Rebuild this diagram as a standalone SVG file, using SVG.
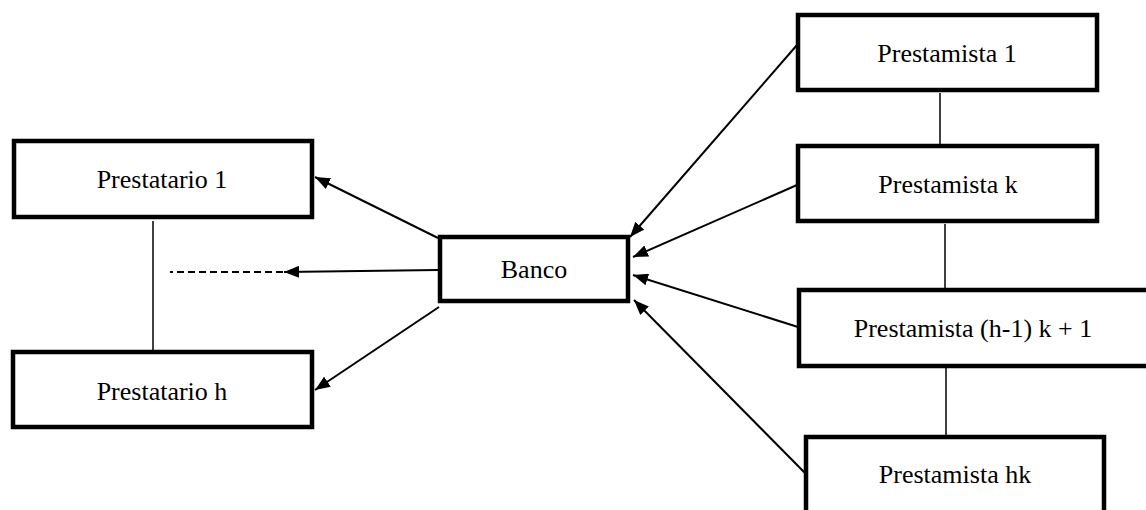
<svg xmlns="http://www.w3.org/2000/svg" width="1146" height="510" viewBox="0 0 1146 510">
  <style>
    .box { fill: #ffffff; stroke: #000000; stroke-width: 4.5; }
    .lbl { font-family: "Liberation Serif", "Times New Roman", serif; font-size: 26px; fill: #000000; text-anchor: middle; }
    .conn { stroke: #000000; stroke-width: 2; fill: none; }
    .thin { stroke: #000000; stroke-width: 1.5; fill: none; }
    .dash { stroke: #000000; stroke-width: 2; fill: none; stroke-dasharray: 7 4; }
  </style>
  <defs>
    <marker id="arrow" markerUnits="userSpaceOnUse" markerWidth="16" markerHeight="12" refX="15" refY="6" orient="auto">
      <path d="M0,0 L15,6 L0,12 z" fill="#000000"/>
    </marker>
  </defs>
  <rect width="1146" height="510" fill="#ffffff"/>

  <g id="connectors">
    <line class="thin" x1="153" y1="221" x2="153" y2="350"/>
    <line class="thin" x1="940" y1="93" x2="940" y2="144"/>
    <line class="thin" x1="945" y1="224" x2="945" y2="288"/>
    <line class="thin" x1="946" y1="368" x2="946" y2="435"/>
    <line class="conn" x1="438" y1="238" x2="315" y2="177" marker-end="url(#arrow)"/>
    <line class="conn" x1="438" y1="270" x2="284" y2="272" marker-end="url(#arrow)"/>
    <line class="dash" x1="283" y1="272" x2="170" y2="272"/>
    <line class="conn" x1="439" y1="307" x2="315" y2="390" marker-end="url(#arrow)"/>
    <line class="conn" x1="797" y1="45" x2="630" y2="237" marker-end="url(#arrow)"/>
    <line class="conn" x1="797" y1="185" x2="633" y2="257" marker-end="url(#arrow)"/>
    <line class="conn" x1="798" y1="327" x2="633" y2="275" marker-end="url(#arrow)"/>
    <line class="conn" x1="805" y1="473" x2="634" y2="300" marker-end="url(#arrow)"/>
  </g>

  <g id="prestatario1">
    <rect class="box" x="14" y="141" width="298" height="76"/>
    <text class="lbl" x="162" y="188">Prestatario 1</text>
  </g>
  <g id="prestatarioh">
    <rect class="box" x="13" y="352" width="299" height="75"/>
    <text class="lbl" x="162" y="400">Prestatario h</text>
  </g>
  <g id="banco">
    <rect class="box" x="440" y="237" width="188" height="64"/>
    <text class="lbl" x="534" y="278">Banco</text>
  </g>
  <g id="prestamista1">
    <rect class="box" x="798" y="15" width="299" height="75"/>
    <text class="lbl" x="947" y="62">Prestamista 1</text>
  </g>
  <g id="prestamistak">
    <rect class="box" x="798" y="146" width="299" height="75"/>
    <text class="lbl" x="948" y="193">Prestamista k</text>
  </g>
  <g id="prestamistah1k1">
    <rect class="box" x="799" y="290" width="360" height="76"/>
    <text class="lbl" x="973" y="337">Prestamista (h-1) k + 1</text>
  </g>
  <g id="prestamistahk">
    <rect class="box" x="806" y="437" width="298" height="90"/>
    <text class="lbl" x="955" y="483">Prestamista hk</text>
  </g>
</svg>
